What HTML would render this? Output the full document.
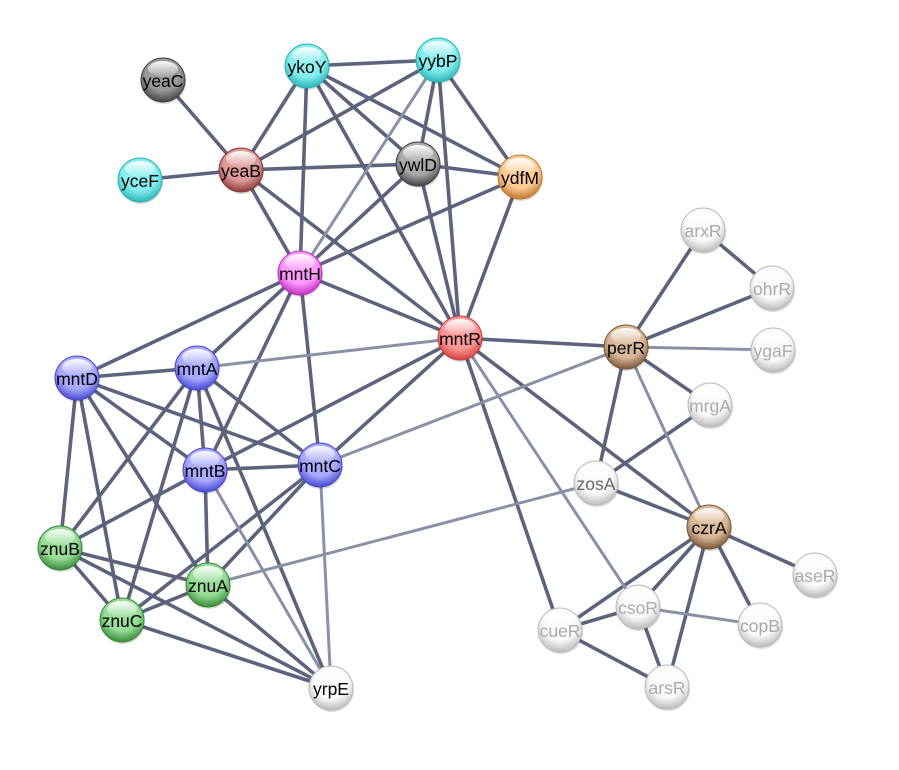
<!DOCTYPE html>
<html><head><meta charset="utf-8"><style>
html,body{margin:0;padding:0;background:#fff;}
svg{display:block;}
text{font-family:"Liberation Sans",sans-serif;font-size:17.5px;text-anchor:middle;dominant-baseline:central;}
</style></head><body>
<svg width="899" height="770" viewBox="0 0 899 770" xmlns="http://www.w3.org/2000/svg">
<defs>
<linearGradient id="hl" x1="0" y1="0" x2="0" y2="1"><stop offset="0" stop-color="#fff" stop-opacity="0.95"/><stop offset="1" stop-color="#fff" stop-opacity="0.1"/></linearGradient>
</defs>
<g stroke="#5d637c" stroke-width="3.5" stroke-linecap="round" id="edges"></g>
<g id="nodes"></g>
</svg>
<script>
var N={yeaC:[163,80,'#444','#999',0],ykoY:[307,66,'#2bb5b5','#8ee',0],yybP:[438,60,'#2bb5b5','#8ee',0],yceF:[140,180,'#2bb5b5','#8ee',0],yeaB:[241,170,'#8b3a3a','#d99',0],ywlD:[418,164,'#444','#aaa',0],ydfM:[520,177,'#c07a30','#fc9',0],mntH:[300,273,'#c030c0','#f9f',0],mntR:[460,338,'#d04040','#f99',0],arxR:[703,230,'#bbb','#fafafa',1],ohrR:[772,288,'#bbb','#fafafa',1],perR:[626,347,'#7a5a3a','#d8b898',0],ygaF:[773,350,'#bbb','#fafafa',1],mrgA:[710,405,'#bbb','#fafafa',1],mntD:[77,378,'#4a4ad0','#aaf',0],mntA:[197,368,'#4a4ad0','#aaf',0],mntB:[205,470,'#4a4ad0','#aaf',0],mntC:[320,465,'#4a4ad0','#aaf',0],zosA:[596,483,'#bbb','#fafafa',2],czrA:[709,527,'#7a5a3a','#d8b898',0],znuB:[60,548,'#3a8a3a','#9d9',0],znuA:[208,585,'#3a8a3a','#9d9',0],aseR:[815,575,'#bbb','#fafafa',1],znuC:[122,620,'#3a8a3a','#9d9',0],csoR:[638,607,'#bbb','#fafafa',1],cueR:[560,630,'#bbb','#fafafa',1],copB:[760,625,'#bbb','#fafafa',1],arsR:[667,687,'#bbb','#fafafa',1],yrpE:[331,688,'#bbb','#fafafa',0]};
var E="yeaC-yeaB yceF-yeaB yeaB-ykoY yeaB-yybP yeaB-ywlD ywlD-ydfM yeaB-mntH yeaB-mntR ykoY-yybP ykoY-ywlD ykoY-ydfM ykoY-mntH ykoY-mntR yybP-ywlD yybP-ydfM yybP-mntR ywlD-mntH ywlD-mntR ydfM-mntH ydfM-mntR mntH-mntD mntH-mntA mntH-mntB mntH-mntC mntH-mntR mntR-mntB mntR-mntC mntR-perR mntR-czrA mntR-cueR perR-arxR perR-ohrR arxR-ohrR perR-mrgA perR-zosA mrgA-zosA zosA-czrA czrA-aseR czrA-copB czrA-csoR czrA-cueR czrA-arsR cueR-csoR cueR-arsR csoR-arsR mntD-mntA mntD-mntB mntD-mntC mntD-znuB mntD-znuA mntD-znuC mntA-mntB mntA-mntC mntA-znuB mntA-znuC mntA-yrpE mntB-mntC mntB-znuA mntB-znuB mntC-znuA mntC-znuC znuB-znuA znuB-znuC znuB-yrpE znuA-znuC znuA-yrpE znuC-yrpE".split(' ');
var L="yybP-mntH mntR-mntA mntR-csoR perR-ygaF perR-czrA perR-mntC zosA-znuA csoR-copB mntB-yrpE mntC-yrpE".split(' ');
var s='';function ln(e,c,w){var p=e.split('-'),a=N[p[0]],b=N[p[1]];s+='<line x1="'+a[0]+'" y1="'+a[1]+'" x2="'+b[0]+'" y2="'+b[1]+'" stroke="'+c+'" stroke-width="'+w+'"/>';}
E.forEach(function(e){ln(e,'#5d637c',3.6)});L.forEach(function(e){ln(e,'#8a90a6',3)});
document.getElementById('edges').innerHTML=s;
var n='',i=0;for(var k in N){var v=N[k];i++;
n+='<defs><radialGradient id="r'+i+'" cx="50%" cy="35%" r="65%"><stop offset="0" stop-color="'+v[3]+'"/><stop offset="0.6" stop-color="'+v[3]+'"/><stop offset="1" stop-color="'+v[2]+'"/></radialGradient></defs>';
n+='<circle cx="'+(v[0]+1)+'" cy="'+(v[1]+2)+'" r="22" fill="#000" opacity="0.15"/>';
n+='<circle cx="'+v[0]+'" cy="'+v[1]+'" r="22" fill="url(#r'+i+')" stroke="'+v[2]+'" stroke-width="1"/>';
n+='<ellipse cx="'+v[0]+'" cy="'+(v[1]-11)+'" rx="15" ry="8" fill="url(#hl)"/>';
n+='<text x="'+v[0]+'" y="'+(v[1]+1)+'" fill="'+(v[4]==1?'#aaa':(v[4]==2?'#666':'#000'))+'">'+k+'</text>';}
document.getElementById('nodes').innerHTML=n;
</script>
</body></html>
